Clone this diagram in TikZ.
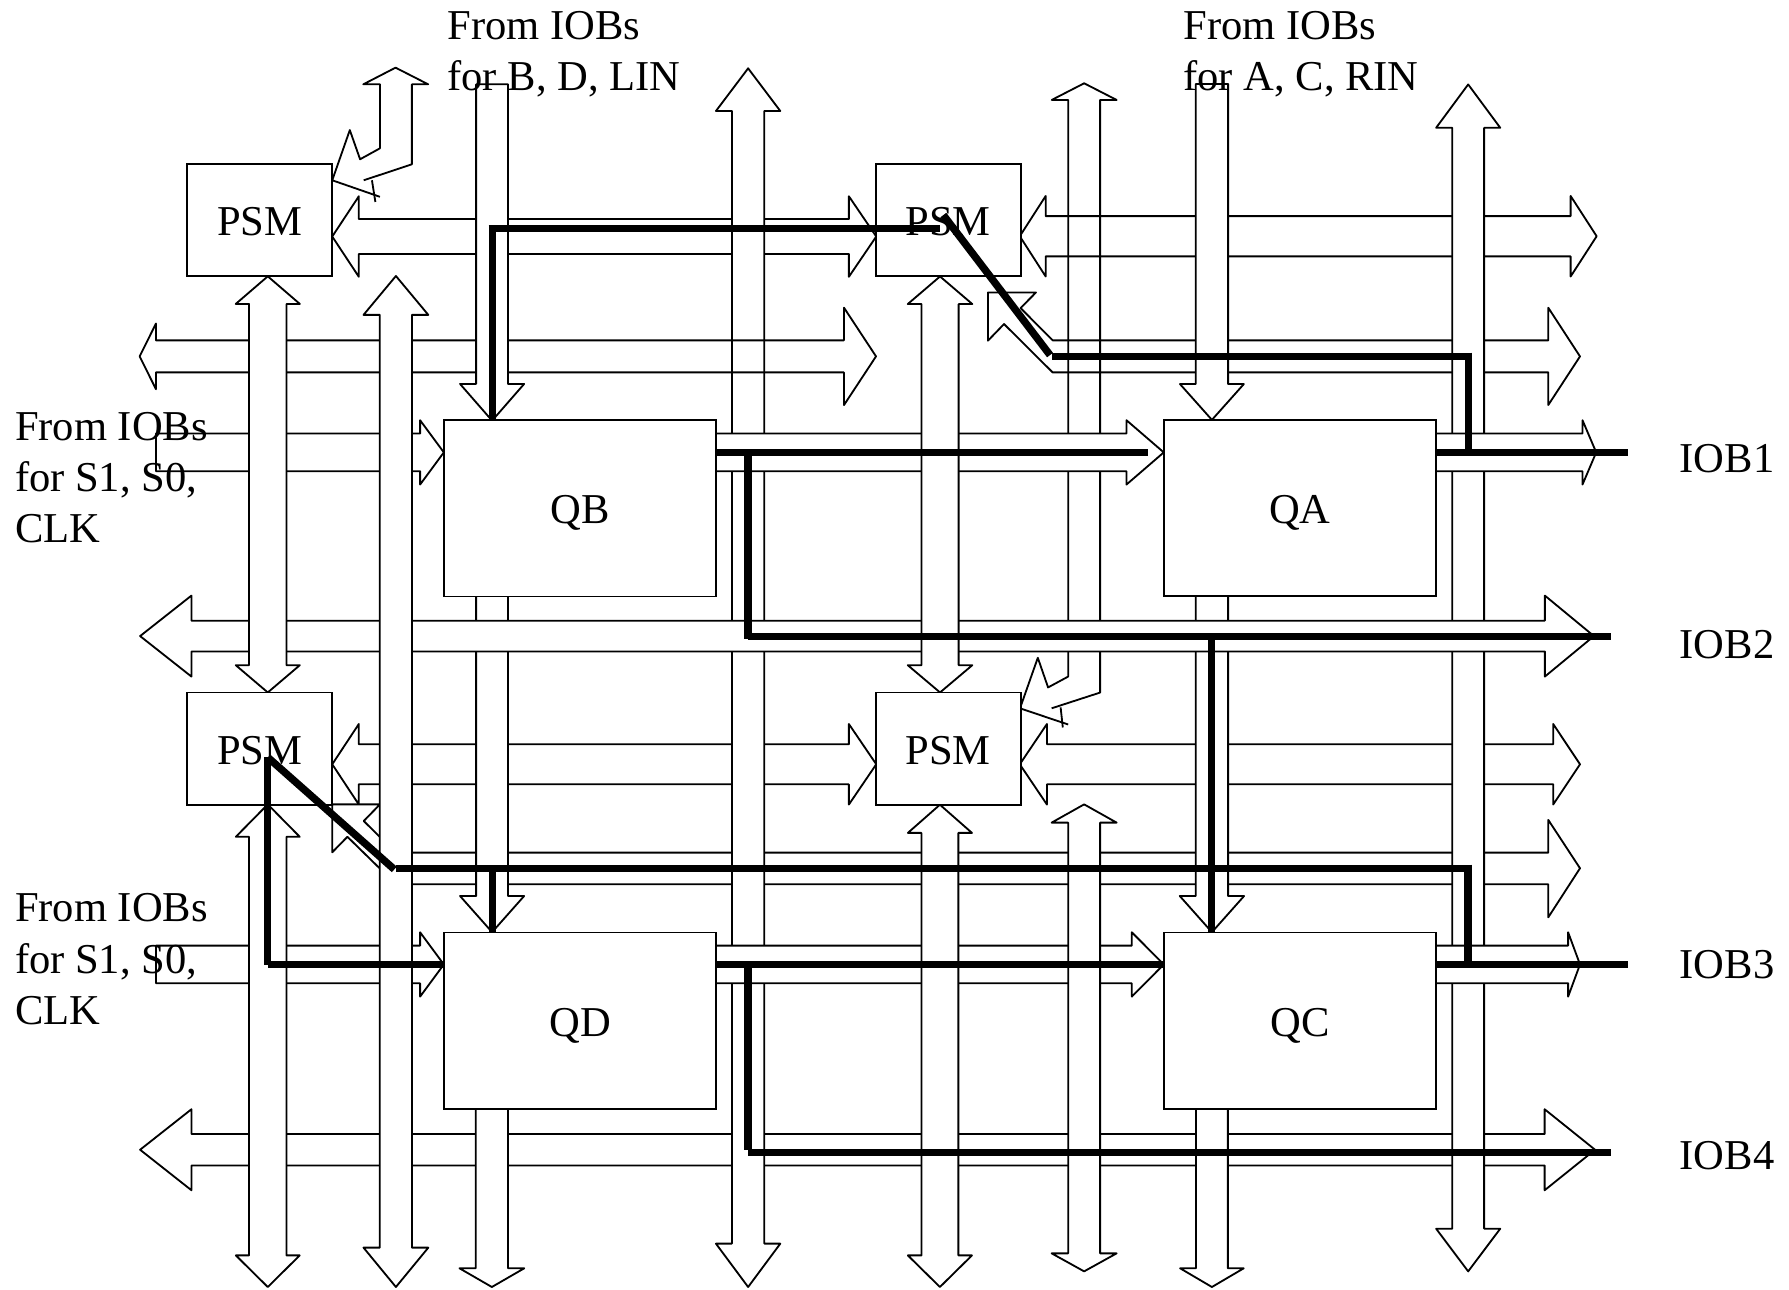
\documentclass[tikz,border=0pt]{standalone}
\usepackage{fontspec}
\setmainfont{Liberation Serif}
\newcommand{\vdbl}[8][bus]{\path[#1] (#2,#5) -- ({#2+#4},#6) -- ({#2+#3},#6) -- ({#2+#3},#7) -- ({#2+#4},#7) -- (#2,#8) -- ({#2-#4},#7) -- ({#2-#3},#7) -- ({#2-#3},#6) -- ({#2-#4},#6) -- cycle;}
\newcommand{\vdn}[7][bus]{\path[#1] ({#2-#3},#5) -- ({#2+#3},#5) -- ({#2+#3},#6) -- ({#2+#4},#6) -- (#2,#7) -- ({#2-#4},#6) -- ({#2-#3},#6) -- cycle;}
% \hdbl[style]{ytop}{ybottom}{tipL}{neckL}{headL half}{neckR}{tipR}{headR half}
\newcommand{\hdbl}[9][bus]{\def\ya{#2}\def\yb{#3}\def\xtl{#4}\def\xnl{#5}\def\hl{#6}\def\xnr{#7}\def\xtr{#8}\def\hr{#9}\pgfmathsetmacro\yc{(\ya+\yb)/2}%
\path[#1] (\xtl,\yc) -- (\xnl,{\yc-\hl}) -- (\xnl,\ya) -- (\xnr,\ya) -- (\xnr,{\yc-\hr}) -- (\xtr,\yc) -- (\xnr,{\yc+\hr}) -- (\xnr,\yb) -- (\xnl,\yb) -- (\xnl,{\yc+\hl}) -- cycle;}
\newcommand{\hrt}[7][bus]{\pgfmathsetmacro\yc{(#2+#3)/2}\path[#1] (#4,#2) -- (#5,#2) -- (#5,{\yc-#7}) -- (#6,\yc) -- (#5,{\yc+#7}) -- (#5,#3) -- (#4,#3) -- cycle;}
\tikzset{
  bus/.style={draw=black,fill=white,line width=1.6pt,line join=round},
  busopen/.style={draw=black,line width=1.6pt,line join=round},
  boxnode/.style={draw=black,fill=white,line width=1.6pt,inner sep=0pt,text height=27.5pt,text depth=0pt,font=\fontsize{37.3}{45}\selectfont},
  psm/.style={boxnode,minimum width=127pt,minimum height=98.5pt},
  reg/.style={boxnode,minimum width=238.6pt,minimum height=154.5pt},
  lab/.style={anchor=north west,align=left,inner sep=0pt,font=\fontsize{37.3}{45}\selectfont},
  sig/.style={draw=black,line width=6.5pt,line cap=butt},
}
\begin{document}
\begin{tikzpicture}[x=1pt,y=-1pt]
\useasboundingbox (0,0) rectangle (1568,1129.8);
\fill[white] (0,0) rectangle (1568,1129.8);
% lowest horizontal buses
\hdbl{192}{222.6}{291.2}{314.5}{35.3}{744}{768}{35.3}
\hdbl{652.3}{687.4}{291.2}{314.5}{35.3}{744}{768}{35.3}
\hdbl{652.3}{687.4}{893.8}{917.6}{35.3}{1361.3}{1384.8}{35.3}
\hdbl{993.9}{1021.5}{122.8}{167.8}{35.5}{1353.8}{1398}{35.5}
% bent bus at lower left, going to the right
\path[bus] (1357,747.3) -- (1357,718.6) -- (1384.8,761) -- (1357,804) -- (1357,775) -- (347,775) -- (304.5,733.4) -- (291.2,747) -- (291.2,705) -- (333,705) -- (318.8,719.6) -- (347,747.3) -- cycle;
% long verticals underneath
\vdbl{655.7}{14.2}{28.2}{59.9}{97.3}{1090}{1128}
\path[busopen] (921.7,620.8) -- (964.2,607) -- (964.2,87.6) -- (978.7,87.6) -- (950.2,73) -- (921.8,87.6) -- (936.2,87.6) -- (936.2,593) -- (918.6,602.5) -- (909.6,576.5) -- (894,620.8) -- (936.2,635);
\path[busopen] (929.6,620) -- (931.5,637.6);
% open horizontals: the verticals below them stay visible
\hdbl[busopen]{189.4}{224.7}{893.8}{916.5}{35.3}{1376.6}{1399.4}{35.3}
\hdbl[busopen]{298.3}{326.4}{122.4}{136.7}{28.8}{739.7}{767.8}{42.7}
\path[busopen] (1357,298.3) -- (922.6,298.3) -- (894.5,270) -- (908,256.3) -- (865.9,256.3) -- (865.9,298.6) -- (880,284) -- (922.6,326.4) -- (1357,326.4) -- (1357,355) -- (1384.8,312.4) -- (1357,269.7) -- cycle;
% middle verticals
\vdn{431.3}{14}{28.1}{73.9}{336.5}{368.7}
\vdn{431.3}{14}{28.1}{510}{785.3}{817}
\vdn{431.1}{14.1}{28.4}{960}{1111.6}{1128}
\vdn{1062.2}{14.2}{28}{73.6}{336.6}{368}
\vdn{1062.2}{14.2}{28.2}{510}{785.3}{817}
\vdn{1062.2}{14}{27.9}{960}{1111.6}{1128}
\vdbl{1286.8}{14}{28.1}{74}{112}{1076.9}{1114.3}
% upper horizontals
\hrt{380}{413}{136.7}{368.2}{389}{28.2}
\hrt{828.8}{861.8}{136.7}{368.2}{389}{28.2}
\hrt{380}{413}{620}{987.3}{1020}{28.2}
\hrt{828.8}{861.8}{620}{992}{1020}{28.2}
\hrt{380}{413}{1250}{1387}{1399}{28.2}
\hrt{828.8}{861.8}{1250}{1374.4}{1384.8}{28.2}
\hdbl{544}{571}{122.8}{167.8}{35.5}{1354}{1397}{35.5}
% top verticals
\vdbl{234.7}{16.4}{28.1}{242.2}{266.4}{583}{606.9}
\vdbl{234.7}{16.4}{28}{705}{733.4}{1100.3}{1128}
\vdbl{347}{14.1}{28.4}{241.9}{276}{1093.5}{1128}
\vdbl{823.9}{16.3}{28.3}{242.3}{266.5}{583}{606.9}
\vdbl{823.8}{16.2}{28.1}{705.3}{730}{1100.3}{1128}
\vdbl{950.2}{14}{28.5}{705}{721}{1098.5}{1114.3}
% bent bus at top left
\path[busopen] (318.8,158) -- (361,144) -- (361,73.9) -- (375.3,73.9) -- (346.7,59.3) -- (318.4,73.9) -- (333,73.9) -- (333,130) -- (315.6,139.6) -- (306.6,114) -- (291.2,158) -- (333,172.5);
\path[busopen] (326,158) -- (329,177);
% blocks
\node[psm] (P1) at (227.7,193) {PSM};
\node[psm] (P2) at (831,193) {PSM};
\node[psm] (P3) at (227.7,656.2) {PSM};
\node[psm] (P4) at (831,656.2) {PSM};
\node[reg] (QB) at (508.4,445.5) {QB};
\node[reg] (QA) at (1139.3,445.2) {QA};
\node[reg] (QD) at (508.4,894.6) {QD};
\node[reg] (QC) at (1139.3,894.6) {QC};
% signal route points
\coordinate (a1) at (431.5,200.2);
\coordinate (a2) at (824,200.2);
\coordinate (d1) at (826.8,188.5);
\coordinate (d2) at (920.3,311.2);
\coordinate (d3) at (922.3,312.4);
\coordinate (c1) at (1286.9,312.4);
\coordinate (c2) at (1286.9,394);
\coordinate (b1) at (1005.9,396.8);
\coordinate (o1) at (1427,396.8);
\coordinate (e1) at (655.6,396.8);
\coordinate (e2) at (655.6,560);
\coordinate (e3) at (655.6,558);
\coordinate (o2) at (1412,558);
\coordinate (f1) at (1061.8,558);
\coordinate (f2) at (1061.8,817);
\coordinate (g1) at (234.7,663.8);
\coordinate (g2) at (234.7,845.5);
\coordinate (g3) at (345.6,762);
\coordinate (g4) at (347.5,761);
\coordinate (g5) at (1286.5,761);
\coordinate (g6) at (1286.5,842);
\coordinate (h1) at (431.5,761);
\coordinate (o3) at (1427,845.4);
\coordinate (k1) at (655.7,845.4);
\coordinate (k2) at (655.7,1007.5);
\coordinate (k3) at (655.7,1010);
\coordinate (o4) at (1412,1010);
% signal routes
\draw[sig] (a1 |- QB.north) -- (a1) ++(-3.25,0) -- (a2);
\draw[sig] (d1) -- (d2);
\draw[sig] (d3) -- (c1) ++(0,-3.25) -- (c2);
\draw[sig] (QB.east |- b1) -- (b1);
\draw[sig] (QA.east |- o1) -- (o1);
\draw[sig] (e1) -- (e2);
\draw[sig] (e3) -- (o2);
\draw[sig] (f1) -- (f2);
\draw[sig] (g1) -- (g2);
\draw[sig] (g2) -- (QD.west |- g2);
\draw[sig] (g1) -- (g3);
\draw[sig] (g4) -- (g5) ++(0,-3.25) -- (g6);
\draw[sig] (h1) -- (h1 |- QD.north);
\draw[sig] (QD.east |- k1) -- (QC.west |- k1);
\draw[sig] (QC.east |- o3) -- (o3);
\draw[sig] (k1) -- (k2);
\draw[sig] (k3) -- (o4);
% labels
\node[lab] (t1) at (392,9.5) {From IOBs\\for B, D, LIN};
\node[lab] (t2) at (1037,9.5) {From IOBs\\for A, C, RIN};
\node[lab] (t3) at (13,361) {From IOBs\\for S1, S0,\\CLK};
\node[lab] (t4) at (13,783) {From IOBs\\for S1, S0,\\CLK};
\node[lab] (i1) at (1472,389) {IOB1};
\node[lab] (i2) at (1472,552) {IOB2};
\node[lab] (i3) at (1472,833) {IOB3};
\node[lab] (i4) at (1472,1000) {IOB4};
\end{tikzpicture}
\end{document}
